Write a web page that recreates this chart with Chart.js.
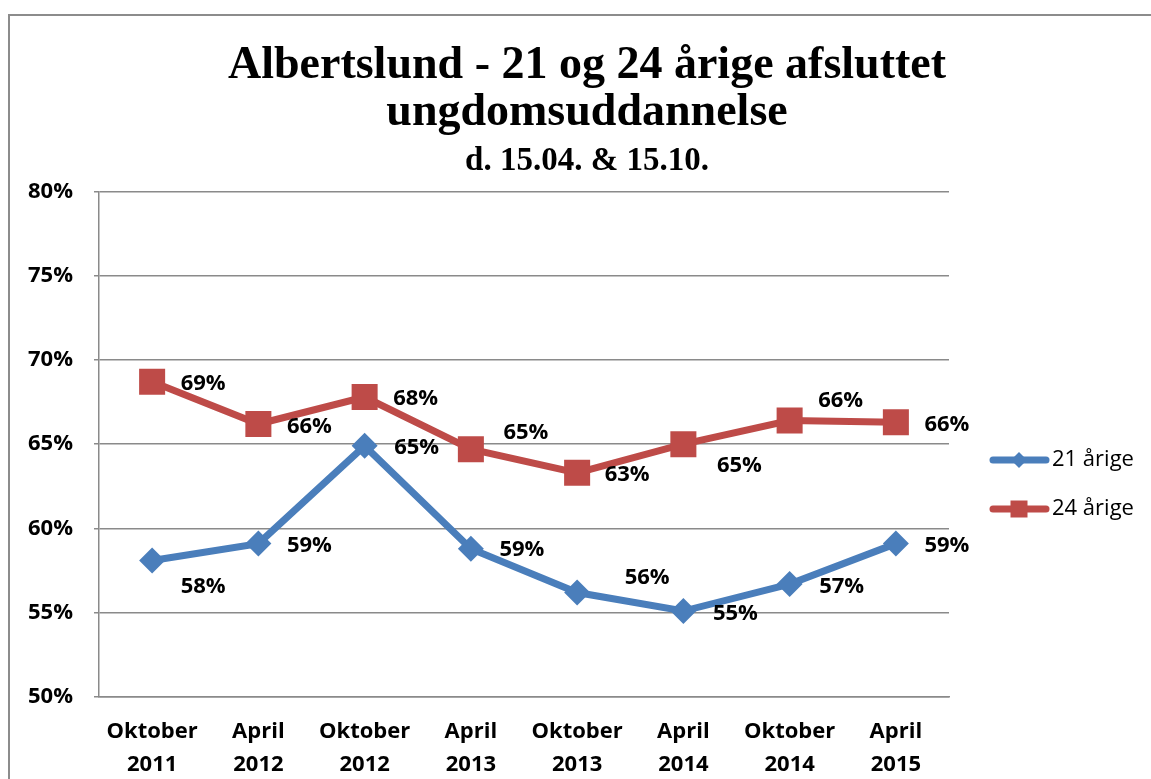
<!DOCTYPE html>
<html>
<head>
<meta charset="utf-8">
<script src="https://cdn.jsdelivr.net/npm/chart.js@4/dist/chart.umd.min.js"></script>
<style>
  html, body { margin: 0; padding: 0; background: #ffffff; }
  #wrap { width: 1151px; height: 779px; position: relative; }
</style>
</head>
<body>
<div id="wrap"><canvas id="c" width="1151" height="779"></canvas></div>
<script>
// ---- data ----
const categories = [
  ['Oktober', '2011'], ['April', '2012'], ['Oktober', '2012'], ['April', '2013'],
  ['Oktober', '2013'], ['April', '2014'], ['Oktober', '2014'], ['April', '2015']
];
const seriesNames = ['21 årige', '24 årige'];
const values21 = [58.1, 59.1, 64.9, 58.8, 56.2, 55.1, 56.7, 59.1];
const values24 = [68.7, 66.2, 67.8, 64.7, 63.3, 65.0, 66.4, 66.3];
const yTicks = [50, 55, 60, 65, 70, 75, 80];
const titleLines = ['Albertslund - 21 og 24 årige afsluttet', 'ungdomsuddannelse'];
const subtitleText = 'd. 15.04. & 15.10.';

// ---- styles ----
const BLUE = '#4A7EBB';
const RED = '#BE4B48';
const GRID = '#8a8a8a';
const FONT = '"Open Sans", "DejaVu Sans", sans-serif';
// label offsets (dx, dy) relative to each point, per series
const labelOffsets = [
  [[51, 26], [51, 2], [52, 2], [51, 1], [70, -15], [52, 3], [52, 3], [51, 2]],
  [[51, 2], [51, 3], [51, 2], [55, -17], [50, 2], [56, 22], [51, -20], [51, 2]]
];

const framePlugin = {
  id: 'frame',
  beforeDraw(chart) {
    const ctx = chart.ctx;
    ctx.save();
    ctx.strokeStyle = '#8c8c8c';
    ctx.lineWidth = 2;
    ctx.beginPath();
    ctx.moveTo(9, 779);
    ctx.lineTo(9, 15);
    ctx.lineTo(1151, 15);
    ctx.stroke();
    ctx.restore();
  }
};

const dataLabelPlugin = {
  id: 'dataLabels',
  afterDatasetsDraw(chart) {
    const ctx = chart.ctx;
    ctx.save();
    ctx.font = 'bold 22px ' + FONT;
    ctx.fillStyle = '#000';
    ctx.textAlign = 'center';
    ctx.textBaseline = 'middle';
    chart.data.datasets.forEach((ds, di) => {
      const meta = chart.getDatasetMeta(di);
      meta.data.forEach((pt, i) => {
        const off = labelOffsets[di][i];
        ctx.fillText(Math.round(ds.data[i]) + '%', pt.x + off[0], pt.y + off[1]);
      });
    });
    ctx.restore();
  }
};

function drawMarker(ctx, style, x, y, r, color) {
  ctx.fillStyle = color;
  ctx.beginPath();
  if (style === 'rectRot') {
    ctx.moveTo(x - r, y); ctx.lineTo(x, y - r); ctx.lineTo(x + r, y); ctx.lineTo(x, y + r);
    ctx.closePath();
  } else {
    ctx.rect(x - r, y - r, 2 * r, 2 * r);
  }
  ctx.fill();
}

const legendPlugin = {
  id: 'customLegend',
  afterDraw(chart) {
    const ctx = chart.ctx;
    ctx.save();
    chart.data.datasets.forEach((ds, di) => {
      const y = 460 + di * 49;
      ctx.strokeStyle = ds.borderColor;
      ctx.lineWidth = 7;
      ctx.lineCap = 'round';
      ctx.beginPath();
      ctx.moveTo(993, y);
      ctx.lineTo(1046, y);
      ctx.stroke();
      drawMarker(ctx, ds.pointStyle, 1019, y, ds.pointStyle === 'rectRot' ? 8 : 8.5, ds.backgroundColor);
      ctx.fillStyle = '#000';
      ctx.font = '22px ' + FONT;
      ctx.textAlign = 'left';
      ctx.textBaseline = 'middle';
      ctx.fillText(ds.label, 1052, y);
    });
    ctx.restore();
  }
};

new Chart(document.getElementById('c'), {
  type: 'line',
  data: {
    labels: categories,
    datasets: [
      {
        label: seriesNames[0],
        data: values21,
        borderColor: BLUE,
        backgroundColor: BLUE,
        borderWidth: 7,
        pointStyle: 'rectRot',
        pointRadius: 13,
        pointHoverRadius: 13,
        pointBorderWidth: 0,
        tension: 0
      },
      {
        label: seriesNames[1],
        data: values24,
        borderColor: RED,
        backgroundColor: RED,
        borderWidth: 7,
        pointStyle: 'rect',
        pointRadius: 18.4,
        pointHoverRadius: 18.4,
        pointBorderWidth: 0,
        tension: 0
      }
    ]
  },
  options: {
    responsive: false,
    animation: false,
    devicePixelRatio: 1,
    layout: { padding: { left: 25, right: 2, top: 0, bottom: 0 } },
    plugins: {
      legend: { display: false },
      tooltip: { enabled: false },
      title: {
        display: true,
        text: titleLines,
        color: '#000',
        font: { family: '"Liberation Serif", "Times New Roman", serif', size: 46, weight: 'bold', lineHeight: 1.03 },
        padding: { top: 42, bottom: 0 }
      },
      subtitle: {
        display: true,
        text: subtitleText,
        color: '#000',
        font: { family: '"Liberation Serif", "Times New Roman", serif', size: 33, weight: 'bold', lineHeight: 1.2 },
        padding: { top: 5, bottom: 10 }
      }
    },
    scales: {
      x: {
        offset: true,
        grid: { display: false, drawTicks: false },
        border: { display: true, color: GRID, width: 1.5 },
        ticks: {
          color: '#000',
          font: { family: FONT, size: 22, weight: 'bold', lineHeight: 1.5 },
          padding: 18,
          maxRotation: 0,
          autoSkip: false
        },
        afterFit(s) { s.height = 82; }
      },
      y: {
        min: 50,
        max: 80,
        afterBuildTicks(s) { s.ticks = yTicks.map(v => ({ value: v })); },
        grid: { color: GRID, lineWidth: 1.5, drawTicks: true, tickLength: 5, tickColor: GRID },
        border: { display: true, color: GRID, width: 1.5 },
        ticks: {
          color: '#000',
          font: { family: FONT, size: 22, weight: 'bold' },
          padding: 21,
          callback: v => v + '%'
        },
        afterFit(s) { s.width = 74; }
      },
      yRight: {
        position: 'right',
        display: true,
        grid: { display: false, drawTicks: false },
        border: { display: false },
        ticks: { display: false },
        afterFit(s) { s.width = 200; }
      }
    }
  },
  plugins: [framePlugin, dataLabelPlugin, legendPlugin]
});
</script>
</body>
</html>
